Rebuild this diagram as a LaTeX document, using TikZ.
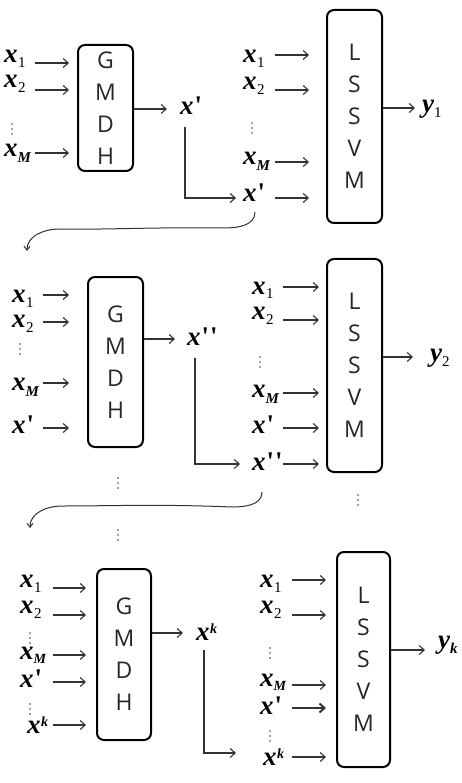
\documentclass[tikz,border=0pt]{standalone}
\usepackage{fontspec}
\usetikzlibrary{arrows.meta}
\newfontfamily\vf{Liberation Serif}[Ligatures=TeXOff]
\newfontfamily\boxfont{Open Sans}
\newcommand\vX{{\vf\bfseries\itshape x}}
\newcommand\xs[1]{\vX\kern0.5pt\raisebox{-5pt}{\fontsize{15}{15}\selectfont\vf #1}}
\newcommand\xM{\vX\raisebox{-6pt}{\fontsize{15}{15}\selectfont\vf\bfseries\itshape M}}
\newcommand\xMs{\vX\raisebox{-4pt}{\fontsize{14}{14}\selectfont\vf\bfseries\itshape M}}
\newcommand\xp{\vX\kern1pt{\vf\bfseries\upshape '}}
\newcommand\xpp{\vX\kern1pt{\vf\bfseries\upshape '\kern1pt'}}
\newcommand\xk{\vX\kern0.5pt\raisebox{7pt}{\fontsize{14}{14}\selectfont\vf\bfseries\itshape k}}
\newcommand\ys[1]{{\vf\bfseries\itshape y}\raisebox{-5pt}{\fontsize{15}{15}\selectfont\vf #1}}
% #1 name, #2 x, #3 y : three drawn dots (vertical ellipsis)
\newcommand\vdt[3]{%
  \coordinate (#1) at (#2,#3);
  \foreach \d in {-5,0,5} \fill[black!75] ([yshift=\d pt]#1) circle (0.85pt);}
% #1 name, #2 label x, #3 base y, #4 arrow y, #5 arrow start x, #6 box, #7 gap, #8 text
\newcommand\inp[8]{%
  \node[lab] (#1) at (#2,#3) {#8};
  \coordinate (#1s) at (#5,#4);
  \draw[arr, shorten >=#7pt] (#1s) -- (#1s -| #6.west);}
\tikzset{
  box/.style={draw=black, line width=2pt, rounded corners=7pt, inner sep=0pt,
    align=center, font=\boxfont\fontsize{23}{32}\selectfont, text=black!85},
  arr/.style={draw=black!80, line width=1.1pt, -{Straight Barb[length=5pt,width=9pt]}},
  carr/.style={draw=black!80, line width=1pt, -{Straight Barb[length=4pt,width=6pt]}},
  lab/.style={anchor=base west, inner sep=0pt, font=\fontsize{27}{27}\selectfont},
}
\begin{document}
\begin{tikzpicture}[x=1pt,y=-1pt]
\useasboundingbox (0,0) rectangle (461,783);
% ---------------- section 1 ----------------
\node[box, minimum width=55pt, minimum height=126pt] (g1) at (105.5,108) {G\\M\\D\\H};
\inp{a1x1}{4}{63}{63}{35}{g1}{8}{\xs{1}}
\inp{a1x2}{4}{88}{90}{35}{g1}{8}{\xs{2}}
\vdt{a1v}{12}{129}
\inp{a1xM}{4}{157}{153}{35}{g1}{8}{\xM}
\node[lab] (o1) at (180,115) {\xp};
\draw[arr, shorten >=13pt] ([yshift=-1pt]g1.east) -- ([yshift=-1pt]g1.east -| o1.west);

\node[box, minimum width=55pt, minimum height=213pt] (l1) at (354.5,116.5) {L\\S\\S\\V\\M};
\inp{b1x1}{243}{63}{55}{275}{l1}{17}{\xs{1}}
\inp{b1x2}{243}{90}{90}{275}{l1}{17}{\xs{2}}
\vdt{b1v}{252}{128}
\inp{b1xM}{243}{165}{162}{275}{l1}{17}{\xM}
\inp{b1xp}{243}{202}{198}{275}{l1}{17}{\xp}
\node[lab] (y1) at (422,113) {\ys{1}};
\draw[arr, shorten >=7pt] ([yshift=8.5pt]l1.east) -- ([yshift=8.5pt]l1.east -| y1.west);
\draw[arr, shorten >=7pt] ([xshift=5pt,yshift=-12pt]o1.base west) |- ([yshift=4pt]b1xp.base west);
\coordinate (c1) at (27,251);
\draw[carr] ([xshift=12pt,yshift=-10pt]b1xp.base west) to[out=-90,in=0] (225,228)
  .. controls (150,227) and (100,230) .. (60,229) to[out=180,in=90] (c1);
% ---------------- section 2 ----------------
\node[box, minimum width=55pt, minimum height=170pt] (g2) at (115.5,362) {G\\M\\D\\H};
\inp{a2x1}{12}{302}{295}{43}{g2}{18}{\xs{1}}
\inp{a2x2}{12}{327}{322}{43}{g2}{18}{\xs{2}}
\vdt{a2v}{20}{349}
\inp{a2xM}{12}{390}{383}{43}{g2}{18}{\xM}
\inp{a2xp}{12}{433}{428}{43}{g2}{18}{\xp}
\node[lab] (o2) at (187,345) {\xpp};
\draw[arr, shorten >=12pt] ([yshift=23pt]g2.east) -- ([yshift=23pt]g2.east -| o2.west);
\vdt{v2a}{118}{483}

\node[box, minimum width=55pt, minimum height=213pt] (l2) at (354.5,365.5) {L\\S\\S\\V\\M};
\inp{b2x1}{252}{294}{287}{283}{l2}{7}{\xs{1}}
\inp{b2x2}{252}{319}{320}{283}{l2}{7}{\xs{2}}
\vdt{b2v}{260}{362}
\inp{b2xM}{252}{397}{393}{283}{l2}{7}{\xM}
\inp{b2xp}{252}{433}{428}{283}{l2}{7}{\xp}
\inp{b2xpp}{252}{470}{464}{283}{l2}{7}{\xpp}
\node[lab] (y2) at (430,361) {\ys{2}};
\draw[arr, shorten >=17pt] ([yshift=8.5pt]l2.east) -- ([yshift=8.5pt]l2.east -| y2.west);
\vdt{v2b}{358}{500}
\draw[arr, shorten >=12pt] ([xshift=8pt,yshift=-13pt]o2.base west) |- ([yshift=6pt]b2xpp.base west);
\coordinate (c2) at (30,528);
\draw[carr] ([xshift=10pt,yshift=-22pt]b2xpp.base west) to[out=-90,in=0] (232,507)
  .. controls (160,504) and (110,506) .. (62,506) to[out=180,in=90] (c2);
% ---------------- section 3 ----------------
\vdt{v3}{118}{535}
\node[box, minimum width=54pt, minimum height=171pt] (g3) at (124,654.5) {G\\M\\D\\H};
\inp{a3x1}{20}{587}{588}{53}{g3}{10}{\xs{1}}
\inp{a3x2}{20}{613}{615}{53}{g3}{10}{\xs{2}}
\vdt{a3v1}{30}{638}
\inp{a3xM}{20}{659}{655}{53}{g3}{10}{\xMs}
\inp{a3xp}{20}{687}{682}{53}{g3}{10}{\xp}
\vdt{a3v2}{30}{709}
\inp{a3xk}{27}{733}{725}{53}{g3}{10}{\xk}
\node[lab] (o3) at (196,640) {\xk};
\draw[arr, shorten >=13pt] ([yshift=21.5pt]g3.east) -- ([yshift=21.5pt]g3.east -| o3.west);

\node[box, minimum width=53pt, minimum height=215pt] (l3) at (363.5,659.5) {L\\S\\S\\V\\M};
\inp{b3x1}{260}{587}{580}{292}{l3}{10}{\xs{1}}
\inp{b3x2}{260}{613}{615}{292}{l3}{10}{\xs{2}}
\vdt{b3v1}{270}{653}
\inp{b3xM}{260}{686}{685}{292}{l3}{10}{\xMs}
\node[lab] (b3xp) at (260,714) {\xp};
\coordinate (b3xps) at (292,708);
\draw[arr, line width=2pt, shorten >=10pt] (b3xps) -- (b3xps -| l3.west);
\vdt{b3v2}{270}{736}
\inp{b3xk}{263}{765}{757}{292}{l3}{10}{\xk}
\node[lab] (yk) at (438,648) {\ys{\bfseries\itshape k}};
\draw[arr, shorten >=13pt] ([yshift=9.5pt]l3.east) -- ([yshift=9.5pt]l3.east -| yk.west);
\draw[arr, shorten >=27pt] ([xshift=8pt,yshift=-10pt]o3.base west) |- ([yshift=12pt]b3xk.base west);
\end{tikzpicture}
\end{document}
